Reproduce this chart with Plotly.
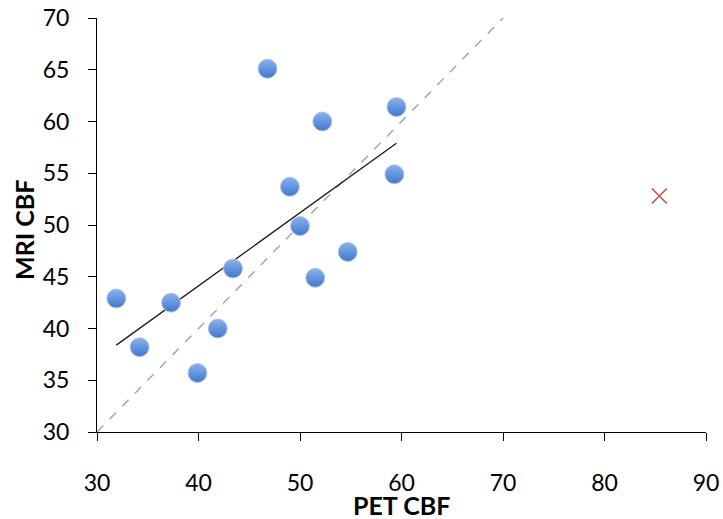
import numpy as np
import plotly.graph_objects as go

# PET vs MRI cerebral blood flow measurements
pet_cbf = [31.9, 34.2, 37.3, 39.9, 41.9, 43.4, 46.8, 49.0, 50.0, 51.5, 52.2, 54.7, 59.3, 59.5]
mri_cbf = [42.9, 38.2, 42.5, 35.7, 40.0, 45.8, 65.1, 53.7, 49.9, 44.9, 60.0, 47.4, 54.9, 61.4]

# excluded outlier
outlier_pet = [85.4]
outlier_mri = [52.8]

# line of identity
identity = [30, 70]

x_ticks = [30, 40, 50, 60, 70, 80, 90]
y_ticks = [30, 35, 40, 45, 50, 55, 60, 65, 70]

# least-squares fit over the included points
slope, intercept = np.polyfit(pet_cbf, mri_cbf, 1)
fit_x = [min(pet_cbf), max(pet_cbf)]
fit_y = [slope * v + intercept for v in fit_x]

fig = go.Figure()

fig.add_trace(go.Scatter(
    x=identity, y=identity, mode="lines",
    line=dict(color="#a6a6a6", width=1.5, dash="dash"),
    hoverinfo="skip", showlegend=False,
))

fig.add_trace(go.Scatter(
    x=fit_x, y=fit_y, mode="lines",
    line=dict(color="#1a1a1a", width=1.3),
    hoverinfo="skip", showlegend=False,
))

fig.add_trace(go.Scatter(
    x=pet_cbf, y=mri_cbf, mode="markers",
    marker=dict(
        size=19, color="#8ab2ee",
        gradient=dict(type="vertical", color="#3f78cf"),
        line=dict(color="#b9c6d8", width=1),
    ),
    showlegend=False,
))

fig.add_trace(go.Scatter(
    x=outlier_pet, y=outlier_mri, mode="markers",
    marker=dict(symbol="x-thin", size=15, line=dict(color="#c0504d", width=1.5)),
    showlegend=False,
))

font_family = "Lato, Liberation Sans, sans-serif"
axis_font = dict(family=font_family, size=23, color="#000000")
title_font = dict(family=font_family, size=25, color="#000000")

fig.update_layout(
    width=723, height=519,
    margin=dict(l=97, r=17, t=18, b=87),
    paper_bgcolor="white", plot_bgcolor="white",
    xaxis=dict(
        range=[30, 90], tickvals=x_ticks, ticks="outside", ticklen=8,
        tickcolor="#000000", showgrid=False, zeroline=False,
        showline=True, linecolor="#000000", linewidth=1,
        tickfont=axis_font, ticklabelstandoff=22, automargin=False,
    ),
    yaxis=dict(
        range=[30, 70], tickvals=y_ticks, ticks="outside", ticklen=8,
        tickcolor="#000000", showgrid=False, zeroline=False,
        showline=True, linecolor="#000000", linewidth=1,
        tickfont=axis_font, ticklabelstandoff=14, automargin=False,
    ),
    annotations=[
        dict(text="<b>PET CBF</b>", xref="paper", yref="paper",
             x=0.5, y=-0.176, xanchor="center", yanchor="middle",
             showarrow=False, font=title_font),
        dict(text="<b>MRI CBF</b>", xref="paper", yref="paper",
             x=-0.12, y=0.488, xanchor="center", yanchor="middle",
             textangle=-90, showarrow=False, font=title_font),
    ],
)

fig.write_html("out.html")
